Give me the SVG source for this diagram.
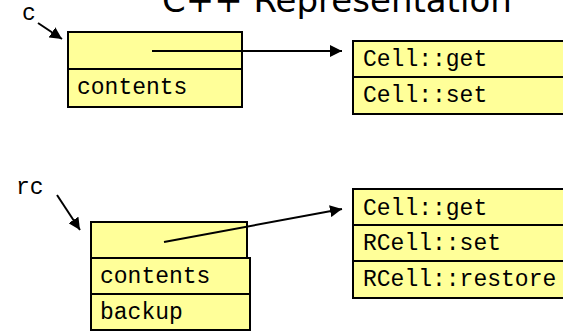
<svg xmlns="http://www.w3.org/2000/svg" width="563" height="332" viewBox="0 0 563 332">
  <style>
    .cell { fill: #ffff99; stroke: #000; stroke-width: 2; }
    .mono { font-family: "Liberation Mono", "Courier New", monospace; font-size: 23px; fill: #000; }
    .title { font-family: "DejaVu Sans", Verdana, sans-serif; font-size: 34px; fill: #000; }
    .ptr { stroke: #000; stroke-width: 2; fill: none; marker-end: url(#head); }
  </style>
  <defs>
    <marker id="head" viewBox="0 0 10 10" refX="10" refY="5" markerWidth="12" markerHeight="12" markerUnits="userSpaceOnUse" orient="auto">
      <path d="M0,0 L10,5 L0,10 z" fill="#000"/>
    </marker>
  </defs>
  <rect width="563" height="332" fill="#fff"/>

  <text class="title" x="162" y="12">C++ Representation</text>

  <g id="label-c">
    <text class="mono" x="22" y="20">c</text>
  </g>
  <g id="label-rc">
    <text class="mono" x="16" y="194">rc</text>
  </g>

  <g id="cell-object">
    <rect class="cell" x="68" y="32" width="174" height="37"/>
    <rect class="cell" x="68" y="69" width="174" height="38"/>
    <text class="mono" x="77" y="94">contents</text>
  </g>

  <g id="cell-vtable">
    <rect class="cell" x="353" y="41" width="220" height="36"/>
    <rect class="cell" x="353" y="77" width="220" height="37"/>
    <text class="mono" x="363" y="66">Cell::get</text>
    <text class="mono" x="363" y="102">Cell::set</text>
  </g>

  <g id="rcell-object">
    <rect class="cell" x="91" y="222" width="156" height="36"/>
    <rect class="cell" x="91" y="258" width="159" height="36"/>
    <rect class="cell" x="91" y="294" width="159" height="36"/>
    <text class="mono" x="100" y="283">contents</text>
    <text class="mono" x="100" y="319">backup</text>
  </g>

  <g id="rcell-vtable">
    <rect class="cell" x="353" y="189" width="220" height="36"/>
    <rect class="cell" x="353" y="225" width="220" height="36"/>
    <rect class="cell" x="353" y="261" width="220" height="37"/>
    <text class="mono" x="363" y="215">Cell::get</text>
    <text class="mono" x="363" y="250">RCell::set</text>
    <text class="mono" x="363" y="286">RCell::restore</text>
  </g>

  <g id="connectors">
    <line class="ptr" x1="38" y1="23" x2="62" y2="39"/>
    <line class="ptr" x1="57" y1="195" x2="80" y2="230"/>
    <line class="ptr" x1="152" y1="51" x2="342" y2="51"/>
    <line class="ptr" x1="164" y1="242" x2="342" y2="209"/>
  </g>
</svg>
